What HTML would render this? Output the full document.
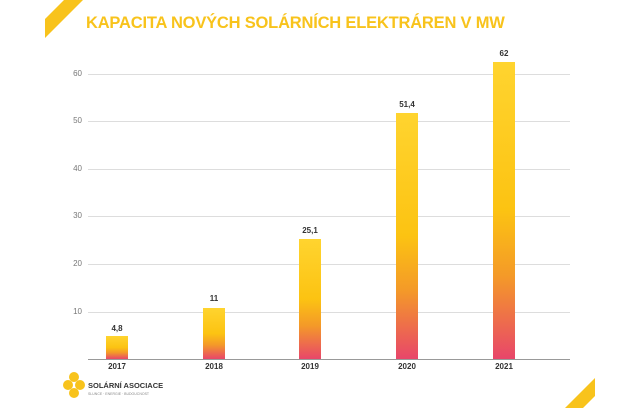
<!DOCTYPE html><html><head><meta charset="utf-8"><style>
body{margin:0;width:640px;height:408px;overflow:hidden;background:#fff;font-family:"Liberation Sans",sans-serif;position:relative}
.t{position:absolute;left:86px;top:14px;font-size:16.5px;font-weight:bold;color:#f8c31c;letter-spacing:-0.2px}
.g{position:absolute;left:88px;width:482px;height:1px;background:#ddd}
.yl{position:absolute;left:62px;font-size:8px;color:#777;width:20px;text-align:right}
.b{position:absolute;width:22px;background:linear-gradient(#ffd42f 0%,#fcc312 50%,#f49a28 72%,#e8466a 100%)}
.v{position:absolute;width:40px;text-align:center;font-size:8px;font-weight:bold;color:#333}
.x{position:absolute;top:362px;width:40px;text-align:center;font-size:8px;font-weight:bold;color:#333}
</style></head><body>
<svg width="640" height="408" style="position:absolute;left:0;top:0">
<polygon points="64,0 83,0 45,38 45,19" fill="#f8c31c"/>
<polygon points="595,378 595,396 583,408 565,408" fill="#f8c31c"/>
<g fill="#f8c31c"><circle cx="74" cy="377" r="5"/><circle cx="68" cy="385" r="5"/><circle cx="80" cy="385" r="5"/><circle cx="74" cy="393" r="5"/></g>
<text x="88" y="388" font-family="Liberation Sans" font-size="7.5" font-weight="bold" fill="#333">SOLÁRNÍ ASOCIACE</text>
<text x="88" y="395" font-family="Liberation Sans" font-size="3.5" fill="#888">SLUNCE · ENERGIE · BUDOUCNOST</text>
</svg>
<div class="t">KAPACITA NOVÝCH SOLÁRNÍCH ELEKTRÁREN V MW</div>
<div class="g" style="top:74px"></div><div class="yl" style="top:69px">60</div>
<div class="g" style="top:121px"></div><div class="yl" style="top:116px">50</div>
<div class="g" style="top:169px"></div><div class="yl" style="top:164px">40</div>
<div class="g" style="top:216px"></div><div class="yl" style="top:211px">30</div>
<div class="g" style="top:264px"></div><div class="yl" style="top:259px">20</div>
<div class="g" style="top:312px"></div><div class="yl" style="top:307px">10</div>
<div class="g" style="top:359px;background:#999"></div>
<div class="b" style="left:106px;top:336px;height:23px"></div><div class="v" style="left:97px;top:324px">4,8</div>
<div class="b" style="left:203px;top:308px;height:51px"></div><div class="v" style="left:194px;top:294px">11</div>
<div class="b" style="left:299px;top:239px;height:120px"></div><div class="v" style="left:290px;top:226px">25,1</div>
<div class="b" style="left:396px;top:113px;height:246px"></div><div class="v" style="left:387px;top:100px">51,4</div>
<div class="b" style="left:493px;top:62px;height:297px"></div><div class="v" style="left:484px;top:49px">62</div>
<div class="x" style="left:97px">2017</div><div class="x" style="left:194px">2018</div><div class="x" style="left:290px">2019</div><div class="x" style="left:387px">2020</div><div class="x" style="left:484px">2021</div>
</body></html>
